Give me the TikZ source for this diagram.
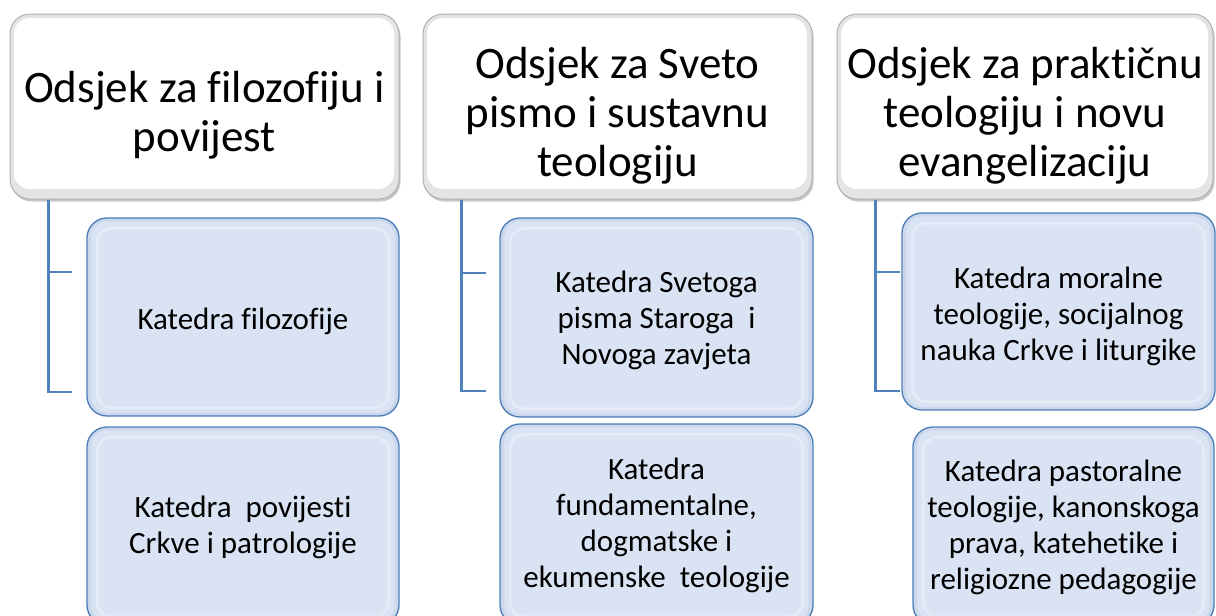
\documentclass[tikz,border=0pt]{standalone}
\usepackage{fontspec}
\setmainfont{Carlito}[Ligatures=NoCommon, RawFeature={-liga;-clig}]
\usetikzlibrary{calc,shadows}
\definecolor{kf}{HTML}{DAE3F3}
\definecolor{kb}{HTML}{4A7DB8}
\definecolor{cb}{HTML}{4F81BD}
\definecolor{hb}{HTML}{B0B0B0}
\definecolor{he}{HTML}{E4E4E4}
\definecolor{ke}{HTML}{CBD8EC}
\tikzset{
  head/.style={draw=hb, line width=1pt, rounded corners=20pt, fill=he, inner sep=0pt,
    drop shadow={shadow xshift=1.5pt, shadow yshift=-2.5pt, opacity=0.22, fill=black},
    path picture={\fill[white, rounded corners=16pt]
      ($(path picture bounding box.south west)+(4pt,10pt)$) rectangle
      ($(path picture bounding box.north east)+(-5pt,-4pt)$);}},
  htext/.style={inner sep=0pt, align=center, font=\fontsize{45}{49}\selectfont},
  kat/.style={draw=kb, line width=1.3pt, rounded corners=20pt, fill=ke, inner sep=0pt},
  kin/.style={fill=kf, rounded corners=16pt},
  kgl/.style={draw=white, draw opacity=0.35, line width=2.5pt, rounded corners=14pt},
  ktext/.style={inner sep=0pt, align=center, font=\fontsize{31}{36}\selectfont},
  conn/.style={draw=cb, line width=2.5pt}
}
\begin{document}
\begin{tikzpicture}[x=1pt,y=1pt]
\useasboundingbox (0,0) rectangle (1216,-616);
% headers
\node[head, minimum width=389pt, minimum height=185pt] (h1) at (204.5,-106.5) {};
\node[head, minimum width=389pt, minimum height=185pt] (h2) at (617.5,-106.5) {};
\node[head, minimum width=376pt, minimum height=185pt] (h3) at (1025,-106.5) {};
\node[htext] (t1) at ([yshift=-9pt]h1.center) {Odsjek za f\kern0pt ilozof\kern0pt iju i\\povijest};
\node[htext] (t2) at ([yshift=-9pt]h2.center) {Odsjek za Sveto\\pismo i sustavnu\\teologiju};
\node[htext] (t3) at ([yshift=-9pt]h3.center) {Odsjek za praktičnu\\teologiju i novu\\evangelizaciju};
% child boxes
\node[kat, minimum width=312pt, minimum height=198pt] (c11) at (243,-317) {};
\node[kat, minimum width=312pt, minimum height=198pt] (c12) at (243,-526) {};
\node[kat, minimum width=313pt, minimum height=199pt] (c21) at (656.5,-317.5) {};
\node[kat, minimum width=313pt, minimum height=201pt] (c22) at (656.5,-524.5) {};
\node[kat, minimum width=313pt, minimum height=197pt] (c31) at (1058.5,-311.5) {};
\node[kat, minimum width=301pt, minimum height=198pt] (c32) at (1063.5,-526) {};
\foreach \n in {c11,c12,c21,c22,c31,c32}{
  \fill[kin] ($(\n.south west)+(5pt,4pt)$) rectangle ($(\n.north east)+(-5pt,-4pt)$);
  \draw[kgl] ($(\n.south west)+(11pt,9pt)$) rectangle ($(\n.north east)+(-11pt,-11pt)$);
}
\node[ktext] (l11) at ([yshift=-4pt]c11.center) {Katedra f\kern0pt ilozof\kern0pt ije};
\node[ktext] (l12) at ([yshift=-1pt]c12.center) {Katedra\ \ povijesti\\Crkve i patrologije};
\node[ktext] (l21) at ([yshift=-3pt]c21.center) {Katedra Svetoga\\pisma Staroga\ \ i\\Novoga zavjeta};
\node[ktext] (l22) at ([yshift=-1pt]c22.center) {Katedra\\fundamentalne,\\dogmatske i\\ekumenske\ \ teologije};
\node[ktext] (l31) at ([yshift=-5pt]c31.center) {Katedra moralne\\teologije, socijalnog\\nauka Crkve i liturgike};
\node[ktext] (l32) at ([yshift=-1pt]c32.center) {Katedra pastoralne\\teologije, kanonskoga\\prava, katehetike i\\religiozne pedagogije};
% connectors
\coordinate (k1a) at (72,-272);  \coordinate (k1b) at (72,-392);
\coordinate (k2a) at (486,-273); \coordinate (k2b) at (486,-391);
\coordinate (k3a) at (900,-272); \coordinate (k3b) at (900,-391);
\draw[conn] ([xshift=39pt]h1.south west) |- (k1b);
\draw[conn] ([xshift=39pt]h1.south west |- k1a) -- (k1a);
\draw[conn] ([xshift=39pt]h2.south west) |- (k2b);
\draw[conn] ([xshift=39pt]h2.south west |- k2a) -- (k2a);
\draw[conn] ([xshift=39pt]h3.south west) |- (k3b);
\draw[conn] ([xshift=39pt]h3.south west |- k3a) -- (k3a);
\end{tikzpicture}
\end{document}
